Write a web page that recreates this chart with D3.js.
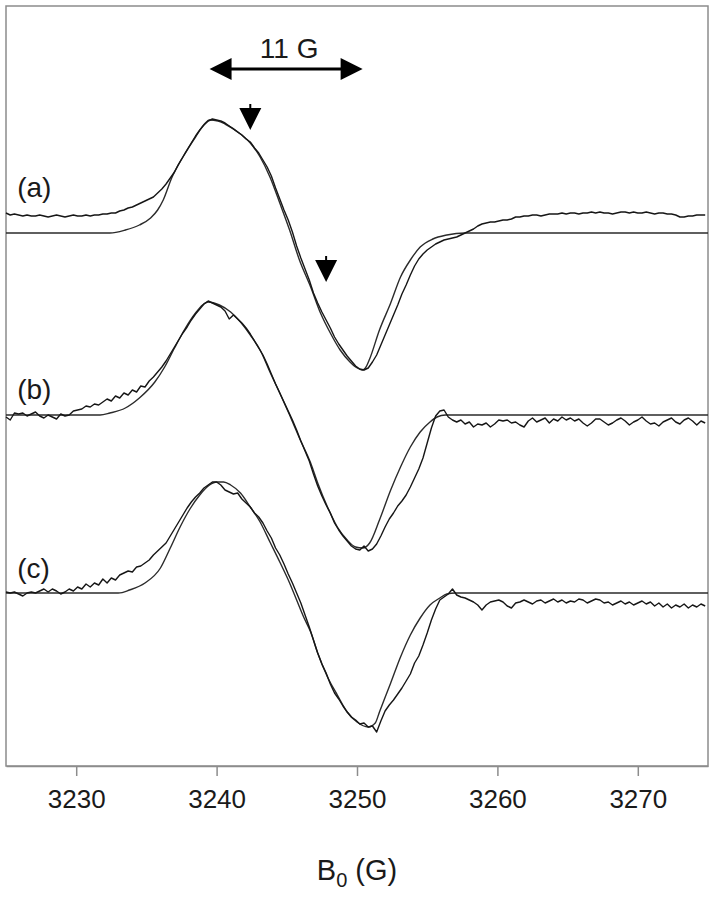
<!DOCTYPE html>
<html>
<head>
<meta charset="utf-8">
<script src="https://cdn.jsdelivr.net/npm/d3@7"></script>
<style>
  body { margin: 0; background: #fff; }
  text { font-family: 'Liberation Sans', Arial, sans-serif; fill: #1a1a1a; }
</style>
</head>
<body>
<script>
// field sweep (G) of the recorded spectra
var field = [
  3225.0, 3225.3, 3225.6, 3225.9, 3226.2, 3226.5, 3226.8, 3227.1, 3227.4, 3227.7,
  3228.0, 3228.3, 3228.6, 3228.9, 3229.2, 3229.5, 3229.8, 3230.1, 3230.4, 3230.7,
  3231.0, 3231.3, 3231.6, 3231.9, 3232.2, 3232.5, 3232.8, 3233.1, 3233.4, 3233.7,
  3234.0, 3234.3, 3234.6, 3234.9, 3235.2, 3235.5, 3235.8, 3236.1, 3236.4, 3236.7,
  3237.0, 3237.3, 3237.6, 3237.9, 3238.2, 3238.5, 3238.8, 3239.1, 3239.4, 3239.7,
  3240.0, 3240.3, 3240.6, 3240.9, 3241.2, 3241.5, 3241.8, 3242.1, 3242.4, 3242.7,
  3243.0, 3243.3, 3243.6, 3243.9, 3244.2, 3244.5, 3244.8, 3245.1, 3245.4, 3245.7,
  3246.0, 3246.3, 3246.6, 3246.9, 3247.2, 3247.5, 3247.8, 3248.1, 3248.4, 3248.7,
  3249.0, 3249.3, 3249.6, 3249.9, 3250.2, 3250.5, 3250.8, 3251.1, 3251.4, 3251.7,
  3252.0, 3252.3, 3252.6, 3252.9, 3253.2, 3253.5, 3253.8, 3254.1, 3254.4, 3254.7,
  3255.0, 3255.3, 3255.6, 3255.9, 3256.2, 3256.5, 3256.8, 3257.1, 3257.4, 3257.7,
  3258.0, 3258.3, 3258.6, 3258.9, 3259.2, 3259.5, 3259.8, 3260.1, 3260.4, 3260.7,
  3261.0, 3261.3, 3261.6, 3261.9, 3262.2, 3262.5, 3262.8, 3263.1, 3263.4, 3263.7,
  3264.0, 3264.3, 3264.6, 3264.9, 3265.2, 3265.5, 3265.8, 3266.1, 3266.4, 3266.7,
  3267.0, 3267.3, 3267.6, 3267.9, 3268.2, 3268.5, 3268.8, 3269.1, 3269.4, 3269.7,
  3270.0, 3270.3, 3270.6, 3270.9, 3271.2, 3271.5, 3271.8, 3272.1, 3272.4, 3272.7,
  3273.0, 3273.3, 3273.6, 3273.9, 3274.2, 3274.5, 3274.8
];

// experimental signals (a.u.), one value per field point
var expA = [
  20, 18, 19, 18, 17, 18, 17, 17, 18, 17,
  16, 17, 18, 17, 16, 17, 18, 17, 17, 18,
  17, 18, 18, 19, 19, 20, 20, 22, 23, 25,
  26, 28, 30, 32, 34, 36, 40, 44, 49, 55,
  61, 69, 76, 83, 90, 97, 103, 108, 112, 114,
  113, 112, 110, 107, 104, 101, 98, 94, 91, 85,
  80, 73, 66, 57, 45, 34, 23, 13, 1, -13,
  -25, -36, -47, -60, -70, -79, -87, -95, -104, -111,
  -117, -123, -128, -133, -136, -137, -135, -129, -122, -112,
  -102, -92, -82, -72, -61, -52, -42, -33, -26, -21,
  -17, -14, -11, -9, -7, -6, -5, -4, -2, 0,
  2, 4, 7, 9, 10, 11, 11, 12, 13, 13,
  14, 16, 16, 17, 17, 18, 18, 17, 18, 19,
  19, 19, 20, 19, 20, 20, 19, 20, 20, 21,
  20, 21, 20, 20, 19, 20, 21, 21, 20, 21,
  20, 20, 21, 20, 19, 20, 20, 19, 19, 18,
  16, 16, 17, 17, 18, 18, 18
];
var expB = [
  -2, -5, 2, 1, 2, -1, 1, 3, -1, -3,
  0, -2, -4, 1, -1, 0, 4, 5, 6, 9,
  8, 11, 10, 13, 16, 14, 19, 17, 22, 20,
  25, 23, 29, 28, 34, 38, 43, 48, 54, 61,
  68, 75, 82, 88, 95, 101, 106, 111, 114, 112,
  110, 108, 104, 96, 100, 96, 92, 87, 81, 74,
  67, 60, 51, 41, 31, 22, 13, 4, -5, -15,
  -26, -36, -46, -59, -71, -81, -90, -98, -108, -115,
  -121, -126, -131, -134, -135, -131, -136, -134, -129, -121,
  -112, -104, -98, -91, -86, -80, -72, -63, -54, -43,
  -28, -13, -1, 4, 5, -2, -5, -7, -5, -9,
  -7, -12, -9, -10, -8, -12, -9, -5, -6, -5,
  -8, -7, -10, -12, -6, -3, -7, -5, -3, -8,
  -4, -6, -2, -5, -3, -6, -4, -8, -11, -8,
  -4, -4, -7, -10, -8, -5, -3, -6, -10, -7,
  -5, -2, -6, -9, -8, -11, -7, -5, -3, -7,
  -9, -5, -3, -6, -10, -6, -8
];
var expC = [
  1, 0, 1, -1, -3, 0, 1, 0, 2, 4,
  1, 4, 2, -1, 1, 4, 2, 6, 4, 9,
  6, 10, 8, 14, 10, 15, 13, 18, 20, 22,
  21, 26, 27, 30, 33, 38, 42, 46, 50, 57,
  64, 71, 78, 85, 91, 96, 100, 105, 108, 111,
  111, 108, 103, 101, 99, 100, 94, 90, 86, 80,
  76, 70, 62, 55, 45, 38, 29, 19, 10, 0,
  -10, -22, -34, -47, -60, -71, -80, -91, -100, -106,
  -113, -119, -124, -127, -131, -130, -134, -133, -139, -128,
  -118, -112, -107, -101, -95, -88, -81, -70, -63, -52,
  -40, -27, -16, -7, -4, -1, 4, -2, -4, -5,
  -7, -9, -12, -17, -12, -9, -8, -7, -9, -13,
  -15, -10, -9, -7, -9, -11, -8, -7, -10, -8,
  -6, -9, -7, -10, -8, -9, -6, -7, -10, -8,
  -6, -7, -10, -9, -12, -10, -8, -11, -9, -12,
  -10, -8, -11, -9, -13, -10, -14, -11, -15, -12,
  -14, -11, -15, -12, -14, -11, -13
];

// simulated spectra, [field (G), signal (a.u.)]
var simA = [
  [3225.0, 0], [3232.4, 0], [3233.5, 3], [3234.5, 8], [3235.3, 15], [3235.8, 23],
  [3236.2, 33], [3236.8, 55], [3237.6, 76], [3238.5, 96], [3239.2, 110], [3239.5, 113],
  [3240.1, 112], [3240.6, 109], [3241.7, 99], [3242.4, 90], [3243.1, 76], [3243.8, 56],
  [3244.5, 30], [3245.2, 3], [3245.9, -27], [3246.7, -54], [3247.4, -80], [3248.1, -100],
  [3248.8, -117], [3249.5, -129], [3249.9, -134], [3250.4, -137], [3250.6, -135],
  [3250.9, -126], [3251.6, -97], [3252.4, -70], [3253.1, -44], [3253.8, -27],
  [3254.5, -14], [3255.4, -6], [3256.4, -2], [3257.7, 0], [3275.0, 0]
];
var simB = [
  [3225.0, 0], [3231.7, 0], [3232.4, 2], [3233.5, 7], [3234.5, 17], [3235.6, 33],
  [3236.3, 48], [3237.0, 67], [3237.7, 85], [3238.5, 102], [3239.0, 110], [3239.4, 113],
  [3240.2, 110], [3241.0, 103], [3241.7, 93], [3242.4, 80], [3243.1, 65], [3243.8, 43],
  [3244.5, 22], [3245.2, 0], [3245.9, -23], [3246.7, -48], [3247.2, -68], [3247.9, -92],
  [3248.6, -112], [3249.3, -125], [3249.9, -132], [3250.4, -133], [3250.9, -128],
  [3251.6, -105], [3252.4, -75], [3253.1, -52], [3253.8, -32], [3254.5, -17],
  [3255.2, -7], [3255.7, -2], [3256.3, 0], [3275.0, 0]
];
var simC = [
  [3225.0, 0], [3233.0, 0], [3233.8, 3], [3234.9, 10], [3236.0, 25], [3236.7, 45],
  [3237.4, 66], [3238.1, 84], [3238.8, 98], [3239.5, 108], [3240.0, 111], [3240.5, 111],
  [3241.0, 108], [3241.7, 100], [3242.4, 86], [3243.1, 71], [3243.8, 51], [3244.5, 31],
  [3245.2, 10], [3245.7, -7], [3246.2, -24], [3246.7, -39], [3247.2, -60], [3247.9, -84],
  [3248.6, -102], [3249.3, -119], [3250.0, -129], [3250.8, -134], [3251.3, -130],
  [3251.6, -119], [3252.4, -90], [3253.1, -64], [3253.8, -42], [3254.5, -25],
  [3255.2, -12], [3255.9, -5], [3256.4, -1], [3257.0, 0], [3275.0, 0]
];

var traceLabels = ['(a)', '(b)', '(c)'];
var traceOffsets = [533, 351, 173];
var labelLevels = [36, 16, 15];
var tickValues = [3230, 3240, 3250, 3260, 3270];
var spanMarker = [3239.5, 3250.4];
var spanLevel = 697;
var spanText = '11 G';
var pointerFields = [3242.4, 3247.8];
var pointerLevels = [636, 484];

var svg = d3
  .select('body')
  .append('svg')
  .attr('width', 711)
  .attr('height', 900);

var x = d3.scaleLinear().domain([3225, 3275]).range([6, 708]);
var y = d3.scaleLinear().domain([0, 760]).range([766, 6]);

// frame
svg
  .append('rect')
  .attr('x', x(3225))
  .attr('y', y(760))
  .attr('width', x(3275) - x(3225))
  .attr('height', y(0) - y(760))
  .attr('fill', 'none')
  .attr('stroke', '#8c8c8c')
  .attr('stroke-width', 1.5);

var axis = svg
  .append('g')
  .attr('transform', 'translate(0,' + y(0) + ')')
  .call(
    d3.axisBottom(x)
      .tickValues(tickValues)
      .tickSize(10)
      .tickSizeOuter(0)
      .tickPadding(14)
      .tickFormat(d3.format('d'))
  );
axis.select('.domain').attr('stroke', '#8c8c8c').attr('stroke-width', 1.5);
axis.selectAll('.tick line').attr('stroke', '#8c8c8c').attr('stroke-width', 1.5);
axis
  .selectAll('.tick text')
  .attr('fill', '#1a1a1a')
  .style('font-size', '26px')
  .style('font-family', "'Liberation Sans', Arial, sans-serif");

var xTitle = svg
  .append('text')
  .attr('x', x(3250))
  .attr('y', 880)
  .attr('text-anchor', 'middle')
  .style('font-size', '29px');
xTitle.append('tspan').text('B');
xTitle.append('tspan').attr('dy', 7).style('font-size', '20px').text('0');
xTitle.append('tspan').attr('dy', -7).text(' (G)');

var expSets = [expA, expB, expC];
var simSets = [simA, simB, simC];

traceOffsets.forEach(function (off, i) {
  var simLine = d3
    .line()
    .curve(d3.curveMonotoneX)
    .x(function (d) { return x(d[0]); })
    .y(function (d) { return y(d[1] + off); });
  var expLine = d3
    .line()
    .x(function (d, j) { return x(field[j]); })
    .y(function (d) { return y(d + off); });
  svg
    .append('path')
    .attr('d', simLine(simSets[i]))
    .attr('fill', 'none')
    .attr('stroke', '#2b2b2b')
    .attr('stroke-width', 1.4);
  svg
    .append('path')
    .attr('d', expLine(expSets[i]))
    .attr('fill', 'none')
    .attr('stroke', '#161616')
    .attr('stroke-width', 1.4)
    .attr('stroke-linejoin', 'round');
  svg
    .append('text')
    .attr('x', x(3225.8))
    .attr('y', y(off + labelLevels[i]))
    .style('font-size', '28px')
    .text(traceLabels[i]);
});

// 11 G span arrow
var sy = y(spanLevel);
var sx0 = x(spanMarker[0]);
var sx1 = x(spanMarker[1]);
svg
  .append('line')
  .attr('x1', sx0 + 15)
  .attr('x2', sx1 - 15)
  .attr('y1', sy)
  .attr('y2', sy)
  .attr('stroke', '#000')
  .attr('stroke-width', 3);
svg
  .append('path')
  .attr('d', 'M' + sx0 + ',' + sy + 'L' + (sx0 + 22) + ',' + (sy - 11) + 'L' + (sx0 + 22) + ',' + (sy + 11) + 'Z')
  .attr('fill', '#000');
svg
  .append('path')
  .attr('d', 'M' + sx1 + ',' + sy + 'L' + (sx1 - 22) + ',' + (sy - 11) + 'L' + (sx1 - 22) + ',' + (sy + 11) + 'Z')
  .attr('fill', '#000');
svg
  .append('text')
  .attr('x', (sx0 + sx1) / 2 + 3)
  .attr('y', sy - 11)
  .attr('text-anchor', 'middle')
  .style('font-size', '28px')
  .text(spanText);

// down pointers
pointerFields.forEach(function (f, i) {
  var px = x(f);
  var py = y(pointerLevels[i]);
  svg
    .append('line')
    .attr('x1', px)
    .attr('x2', px)
    .attr('y1', py - 26)
    .attr('y2', py - 18)
    .attr('stroke', '#000')
    .attr('stroke-width', 2);
  svg
    .append('path')
    .attr('d', 'M' + (px - 11) + ',' + (py - 22) + 'L' + (px + 11) + ',' + (py - 22) + 'L' + px + ',' + py + 'Z')
    .attr('fill', '#000');
});
</script>
</body>
</html>
